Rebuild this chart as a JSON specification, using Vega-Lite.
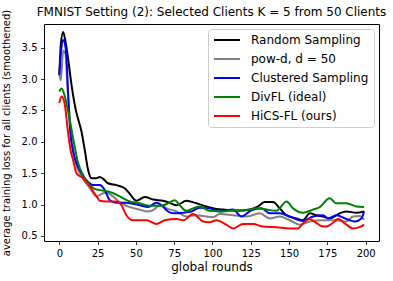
{
  "$schema": "https://vega.github.io/schema/vega-lite/v6.json",
  "autosize": "none",
  "width": 335,
  "height": 217,
  "padding": {"left": 44, "top": 24, "right": 14, "bottom": 40},
  "background": "white",
  "title": {"text": "FMNIST Setting (2): Selected Clients K = 5 from 50 Clients", "font": "DejaVu Sans", "fontSize": 12, "fontWeight": "normal", "color": "black", "baseline": "alphabetic", "offset": 7, "dy": 26, "anchor": "middle", "frame": "group"},
  "config": {
    "font": "DejaVu Sans",
    "view": {"stroke": "black", "strokeWidth": 1},
    "axis": {"domain": false, "grid": false, "tickColor": "black", "tickSize": 3.5, "tickWidth": 0.8, "labelFont": "DejaVu Sans", "labelFontSize": 10, "labelColor": "black", "labelPadding": 3.5, "titleFont": "DejaVu Sans", "titleFontWeight": "normal", "titleColor": "black"},
    "legend": {"labelFont": "DejaVu Sans", "labelFontSize": 12, "labelColor": "black"}
  },
  "data": {"values": [
    {"s": "Random Sampling", "r": 0, "v": 3.08}, {"s": "Random Sampling", "r": 1, "v": 3.55}, {"s": "Random Sampling", "r": 2.5, "v": 3.75}, {"s": "Random Sampling", "r": 4, "v": 3.6}, {"s": "Random Sampling", "r": 5.7, "v": 3.33}, {"s": "Random Sampling", "r": 8, "v": 2.9}, {"s": "Random Sampling", "r": 11, "v": 2.48}, {"s": "Random Sampling", "r": 13, "v": 2.3}, {"s": "Random Sampling", "r": 14.5, "v": 2.16}, {"s": "Random Sampling", "r": 16.6, "v": 1.87}, {"s": "Random Sampling", "r": 18.8, "v": 1.55}, {"s": "Random Sampling", "r": 21, "v": 1.42}, {"s": "Random Sampling", "r": 24, "v": 1.42}, {"s": "Random Sampling", "r": 26.4, "v": 1.44}, {"s": "Random Sampling", "r": 28.6, "v": 1.41}, {"s": "Random Sampling", "r": 31.8, "v": 1.34}, {"s": "Random Sampling", "r": 37.3, "v": 1.31}, {"s": "Random Sampling", "r": 42.7, "v": 1.26}, {"s": "Random Sampling", "r": 46, "v": 1.17}, {"s": "Random Sampling", "r": 50.4, "v": 1.06}, {"s": "Random Sampling", "r": 55.8, "v": 1.12}, {"s": "Random Sampling", "r": 61.2, "v": 1.08}, {"s": "Random Sampling", "r": 67.7, "v": 1.06}, {"s": "Random Sampling", "r": 72, "v": 1.03}, {"s": "Random Sampling", "r": 76.5, "v": 0.99}, {"s": "Random Sampling", "r": 83, "v": 1.06}, {"s": "Random Sampling", "r": 89.5, "v": 1.02}, {"s": "Random Sampling", "r": 96, "v": 0.97}, {"s": "Random Sampling", "r": 102.6, "v": 0.93}, {"s": "Random Sampling", "r": 106.9, "v": 0.92}, {"s": "Random Sampling", "r": 115.6, "v": 0.9}, {"s": "Random Sampling", "r": 124.3, "v": 0.92}, {"s": "Random Sampling", "r": 129.7, "v": 0.97}, {"s": "Random Sampling", "r": 134, "v": 1.04}, {"s": "Random Sampling", "r": 139.5, "v": 1.04}, {"s": "Random Sampling", "r": 143.9, "v": 0.94}, {"s": "Random Sampling", "r": 148.3, "v": 0.83}, {"s": "Random Sampling", "r": 154.8, "v": 0.78}, {"s": "Random Sampling", "r": 159.1, "v": 0.75}, {"s": "Random Sampling", "r": 163.5, "v": 0.86}, {"s": "Random Sampling", "r": 167.8, "v": 0.83}, {"s": "Random Sampling", "r": 172.1, "v": 0.81}, {"s": "Random Sampling", "r": 176.5, "v": 0.78}, {"s": "Random Sampling", "r": 183, "v": 0.86}, {"s": "Random Sampling", "r": 187.4, "v": 0.89}, {"s": "Random Sampling", "r": 193.9, "v": 0.87}, {"s": "Random Sampling", "r": 199, "v": 0.89},

    {"s": "pow-d, d = 50", "r": 0, "v": 3.08}, {"s": "pow-d, d = 50", "r": 1, "v": 2.98}, {"s": "pow-d, d = 50", "r": 2.5, "v": 3.45}, {"s": "pow-d, d = 50", "r": 4, "v": 3.4}, {"s": "pow-d, d = 50", "r": 5.5, "v": 2.8}, {"s": "pow-d, d = 50", "r": 8, "v": 2.05}, {"s": "pow-d, d = 50", "r": 11.2, "v": 1.62}, {"s": "pow-d, d = 50", "r": 14.5, "v": 1.46}, {"s": "pow-d, d = 50", "r": 16.6, "v": 1.37}, {"s": "pow-d, d = 50", "r": 20, "v": 1.26}, {"s": "pow-d, d = 50", "r": 24.3, "v": 1.13}, {"s": "pow-d, d = 50", "r": 28.6, "v": 1.18}, {"s": "pow-d, d = 50", "r": 31, "v": 1.19}, {"s": "pow-d, d = 50", "r": 35, "v": 1.13}, {"s": "pow-d, d = 50", "r": 39.5, "v": 1.04}, {"s": "pow-d, d = 50", "r": 46, "v": 0.96}, {"s": "pow-d, d = 50", "r": 52.5, "v": 0.92}, {"s": "pow-d, d = 50", "r": 57, "v": 0.89}, {"s": "pow-d, d = 50", "r": 61.2, "v": 0.91}, {"s": "pow-d, d = 50", "r": 65.6, "v": 0.99}, {"s": "pow-d, d = 50", "r": 70, "v": 0.94}, {"s": "pow-d, d = 50", "r": 76.5, "v": 0.89}, {"s": "pow-d, d = 50", "r": 83, "v": 0.81}, {"s": "pow-d, d = 50", "r": 89.5, "v": 0.83}, {"s": "pow-d, d = 50", "r": 96, "v": 0.81}, {"s": "pow-d, d = 50", "r": 100.4, "v": 0.8}, {"s": "pow-d, d = 50", "r": 104.7, "v": 0.85}, {"s": "pow-d, d = 50", "r": 113.4, "v": 0.83}, {"s": "pow-d, d = 50", "r": 122.2, "v": 0.81}, {"s": "pow-d, d = 50", "r": 130.8, "v": 0.86}, {"s": "pow-d, d = 50", "r": 137.4, "v": 0.78}, {"s": "pow-d, d = 50", "r": 143.9, "v": 0.81}, {"s": "pow-d, d = 50", "r": 150.4, "v": 0.75}, {"s": "pow-d, d = 50", "r": 156.9, "v": 0.68}, {"s": "pow-d, d = 50", "r": 163.5, "v": 0.73}, {"s": "pow-d, d = 50", "r": 172.1, "v": 0.75}, {"s": "pow-d, d = 50", "r": 180.9, "v": 0.75}, {"s": "pow-d, d = 50", "r": 187.4, "v": 0.73}, {"s": "pow-d, d = 50", "r": 191.7, "v": 0.81}, {"s": "pow-d, d = 50", "r": 196, "v": 0.82}, {"s": "pow-d, d = 50", "r": 199, "v": 0.76},

    {"s": "Clustered Sampling", "r": 0, "v": 3.06}, {"s": "Clustered Sampling", "r": 1, "v": 3.4}, {"s": "Clustered Sampling", "r": 2.5, "v": 3.62}, {"s": "Clustered Sampling", "r": 3.5, "v": 3.58}, {"s": "Clustered Sampling", "r": 4.7, "v": 3.33}, {"s": "Clustered Sampling", "r": 5.7, "v": 2.8}, {"s": "Clustered Sampling", "r": 7.3, "v": 2.11}, {"s": "Clustered Sampling", "r": 9, "v": 1.85}, {"s": "Clustered Sampling", "r": 11.2, "v": 1.66}, {"s": "Clustered Sampling", "r": 14.5, "v": 1.5}, {"s": "Clustered Sampling", "r": 18.8, "v": 1.36}, {"s": "Clustered Sampling", "r": 22, "v": 1.31}, {"s": "Clustered Sampling", "r": 26.4, "v": 1.31}, {"s": "Clustered Sampling", "r": 29.7, "v": 1.23}, {"s": "Clustered Sampling", "r": 33, "v": 1.07}, {"s": "Clustered Sampling", "r": 37.3, "v": 1.03}, {"s": "Clustered Sampling", "r": 43.8, "v": 1.03}, {"s": "Clustered Sampling", "r": 52.5, "v": 0.99}, {"s": "Clustered Sampling", "r": 58, "v": 0.96}, {"s": "Clustered Sampling", "r": 63.4, "v": 1.03}, {"s": "Clustered Sampling", "r": 66.7, "v": 0.99}, {"s": "Clustered Sampling", "r": 71, "v": 0.89}, {"s": "Clustered Sampling", "r": 74.3, "v": 0.86}, {"s": "Clustered Sampling", "r": 81, "v": 0.87}, {"s": "Clustered Sampling", "r": 86.3, "v": 0.89}, {"s": "Clustered Sampling", "r": 91.7, "v": 0.95}, {"s": "Clustered Sampling", "r": 98, "v": 0.94}, {"s": "Clustered Sampling", "r": 104.7, "v": 0.89}, {"s": "Clustered Sampling", "r": 113.4, "v": 0.92}, {"s": "Clustered Sampling", "r": 118.9, "v": 0.81}, {"s": "Clustered Sampling", "r": 125.4, "v": 0.91}, {"s": "Clustered Sampling", "r": 131.9, "v": 0.94}, {"s": "Clustered Sampling", "r": 137.4, "v": 0.86}, {"s": "Clustered Sampling", "r": 143.9, "v": 0.86}, {"s": "Clustered Sampling", "r": 150.4, "v": 0.81}, {"s": "Clustered Sampling", "r": 159.1, "v": 0.74}, {"s": "Clustered Sampling", "r": 165.6, "v": 0.81}, {"s": "Clustered Sampling", "r": 172.1, "v": 0.83}, {"s": "Clustered Sampling", "r": 175.4, "v": 0.78}, {"s": "Clustered Sampling", "r": 180.9, "v": 0.83}, {"s": "Clustered Sampling", "r": 187.4, "v": 0.77}, {"s": "Clustered Sampling", "r": 192.8, "v": 0.73}, {"s": "Clustered Sampling", "r": 197.2, "v": 0.78}, {"s": "Clustered Sampling", "r": 199, "v": 0.89},

    {"s": "DivFL (ideal)", "r": 0, "v": 2.8}, {"s": "DivFL (ideal)", "r": 1.5, "v": 2.85}, {"s": "DivFL (ideal)", "r": 3.6, "v": 2.72}, {"s": "DivFL (ideal)", "r": 6, "v": 2.45}, {"s": "DivFL (ideal)", "r": 8.6, "v": 2.11}, {"s": "DivFL (ideal)", "r": 12.3, "v": 1.66}, {"s": "DivFL (ideal)", "r": 15.5, "v": 1.47}, {"s": "DivFL (ideal)", "r": 20, "v": 1.31}, {"s": "DivFL (ideal)", "r": 23, "v": 1.25}, {"s": "DivFL (ideal)", "r": 26.4, "v": 1.23}, {"s": "DivFL (ideal)", "r": 33, "v": 1.2}, {"s": "DivFL (ideal)", "r": 39.5, "v": 1.13}, {"s": "DivFL (ideal)", "r": 45, "v": 1.06}, {"s": "DivFL (ideal)", "r": 52.5, "v": 1.02}, {"s": "DivFL (ideal)", "r": 59, "v": 0.98}, {"s": "DivFL (ideal)", "r": 66.7, "v": 0.98}, {"s": "DivFL (ideal)", "r": 71, "v": 1.02}, {"s": "DivFL (ideal)", "r": 75.4, "v": 1.07}, {"s": "DivFL (ideal)", "r": 78.6, "v": 0.99}, {"s": "DivFL (ideal)", "r": 83, "v": 0.9}, {"s": "DivFL (ideal)", "r": 87.3, "v": 0.94}, {"s": "DivFL (ideal)", "r": 91.7, "v": 0.97}, {"s": "DivFL (ideal)", "r": 98, "v": 0.9}, {"s": "DivFL (ideal)", "r": 106.9, "v": 0.89}, {"s": "DivFL (ideal)", "r": 114.5, "v": 0.91}, {"s": "DivFL (ideal)", "r": 122.2, "v": 0.91}, {"s": "DivFL (ideal)", "r": 128.7, "v": 0.94}, {"s": "DivFL (ideal)", "r": 135.2, "v": 0.92}, {"s": "DivFL (ideal)", "r": 141.7, "v": 0.9}, {"s": "DivFL (ideal)", "r": 148.3, "v": 1.05}, {"s": "DivFL (ideal)", "r": 152.6, "v": 0.94}, {"s": "DivFL (ideal)", "r": 159.1, "v": 0.87}, {"s": "DivFL (ideal)", "r": 165.6, "v": 0.92}, {"s": "DivFL (ideal)", "r": 170, "v": 0.96}, {"s": "DivFL (ideal)", "r": 176.5, "v": 1.1}, {"s": "DivFL (ideal)", "r": 180.9, "v": 1.02}, {"s": "DivFL (ideal)", "r": 187.4, "v": 1.02}, {"s": "DivFL (ideal)", "r": 193.9, "v": 0.97}, {"s": "DivFL (ideal)", "r": 199, "v": 0.96},

    {"s": "HiCS-FL (ours)", "r": 0, "v": 2.62}, {"s": "HiCS-FL (ours)", "r": 1.5, "v": 2.72}, {"s": "HiCS-FL (ours)", "r": 3.6, "v": 2.59}, {"s": "HiCS-FL (ours)", "r": 5.7, "v": 2.15}, {"s": "HiCS-FL (ours)", "r": 7.5, "v": 1.85}, {"s": "HiCS-FL (ours)", "r": 9, "v": 1.71}, {"s": "HiCS-FL (ours)", "r": 11.2, "v": 1.5}, {"s": "HiCS-FL (ours)", "r": 15.5, "v": 1.42}, {"s": "HiCS-FL (ours)", "r": 20, "v": 1.29}, {"s": "HiCS-FL (ours)", "r": 24.3, "v": 1.13}, {"s": "HiCS-FL (ours)", "r": 26.4, "v": 1.06}, {"s": "HiCS-FL (ours)", "r": 30.8, "v": 1.05}, {"s": "HiCS-FL (ours)", "r": 37.3, "v": 1.05}, {"s": "HiCS-FL (ours)", "r": 40.6, "v": 0.99}, {"s": "HiCS-FL (ours)", "r": 43.8, "v": 0.83}, {"s": "HiCS-FL (ours)", "r": 48, "v": 0.75}, {"s": "HiCS-FL (ours)", "r": 57, "v": 0.75}, {"s": "HiCS-FL (ours)", "r": 63.4, "v": 0.69}, {"s": "HiCS-FL (ours)", "r": 68.8, "v": 0.75}, {"s": "HiCS-FL (ours)", "r": 76.5, "v": 0.77}, {"s": "HiCS-FL (ours)", "r": 81, "v": 0.75}, {"s": "HiCS-FL (ours)", "r": 87.3, "v": 0.85}, {"s": "HiCS-FL (ours)", "r": 94, "v": 0.73}, {"s": "HiCS-FL (ours)", "r": 98, "v": 0.72}, {"s": "HiCS-FL (ours)", "r": 102.6, "v": 0.75}, {"s": "HiCS-FL (ours)", "r": 109, "v": 0.68}, {"s": "HiCS-FL (ours)", "r": 113.4, "v": 0.62}, {"s": "HiCS-FL (ours)", "r": 120, "v": 0.69}, {"s": "HiCS-FL (ours)", "r": 126.5, "v": 0.69}, {"s": "HiCS-FL (ours)", "r": 133, "v": 0.65}, {"s": "HiCS-FL (ours)", "r": 141.7, "v": 0.64}, {"s": "HiCS-FL (ours)", "r": 150.4, "v": 0.62}, {"s": "HiCS-FL (ours)", "r": 155.8, "v": 0.62}, {"s": "HiCS-FL (ours)", "r": 159.1, "v": 0.7}, {"s": "HiCS-FL (ours)", "r": 163.5, "v": 0.77}, {"s": "HiCS-FL (ours)", "r": 167.8, "v": 0.71}, {"s": "HiCS-FL (ours)", "r": 171, "v": 0.66}, {"s": "HiCS-FL (ours)", "r": 174.4, "v": 0.65}, {"s": "HiCS-FL (ours)", "r": 178.7, "v": 0.71}, {"s": "HiCS-FL (ours)", "r": 182, "v": 0.77}, {"s": "HiCS-FL (ours)", "r": 187.4, "v": 0.68}, {"s": "HiCS-FL (ours)", "r": 191.7, "v": 0.62}, {"s": "HiCS-FL (ours)", "r": 196, "v": 0.64}, {"s": "HiCS-FL (ours)", "r": 199, "v": 0.68}
  ]},
  "mark": {"type": "line", "strokeWidth": 2, "interpolate": "monotone"},
  "encoding": {
    "x": {"field": "r", "type": "quantitative", "scale": {"domain": [-10, 208.7], "nice": false, "zero": false},
      "axis": {"values": [0, 25, 50, 75, 100, 125, 150, 175, 200], "title": "global rounds", "titleFontSize": 12, "titlePadding": 3}},
    "y": {"field": "v", "type": "quantitative", "scale": {"domain": [0.42, 3.876], "nice": false, "zero": false},
      "axis": {"values": [0.5, 1, 1.5, 2, 2.5, 3, 3.5], "format": ".1f", "title": "average training loss for all clients (smoothened)", "titleFontSize": 10, "titlePadding": 10}},
    "color": {"field": "s", "type": "nominal",
      "scale": {"domain": ["Random Sampling", "pow-d, d = 50", "Clustered Sampling", "DivFL (ideal)", "HiCS-FL (ours)"], "range": ["#000000", "#808080", "#0000ff", "#008000", "#ff0000"]},
      "legend": {"title": null, "orient": "top-right", "offset": 5, "symbolType": "M-1,0H4.2", "symbolSize": 100, "symbolStrokeWidth": 2, "labelOffset": 26, "rowPadding": 7, "padding": 5, "strokeColor": "#cccccc", "fillColor": "white", "cornerRadius": 3}
    }
  }
}
